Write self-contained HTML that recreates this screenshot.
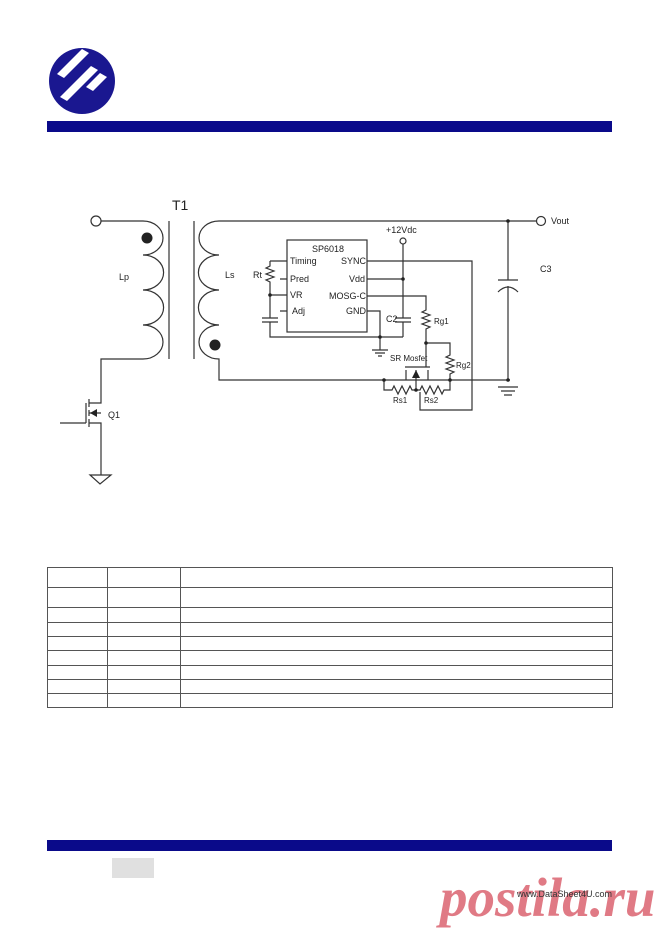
<!DOCTYPE html>
<html><head><meta charset="utf-8"><style>
html,body{margin:0;padding:0;background:#fff}
body{width:660px;height:934px;position:relative;overflow:hidden;font-family:"Liberation Sans",sans-serif}
</style></head><body>
<svg width="660" height="934" viewBox="0 0 660 934" xmlns="http://www.w3.org/2000/svg" style="position:absolute;left:0;top:0">
<!-- logo -->
<circle cx="82" cy="81" r="33" fill="#1a1790"/>
<g fill="#fff">
<polygon points="82,49 89,53 64,78 57,74"/>
<polygon points="91,66 98,70 67,101 60,97"/>
<polygon points="100,73 107,77 93,91 86,87"/>
</g>
<rect x="47" y="121" width="565" height="11" fill="#0a0a8a"/>
<rect x="47" y="840" width="565" height="11" fill="#0a0a8a"/>
<rect x="112" y="858" width="42" height="20" fill="#e0e0e0"/>

<g stroke="#333" stroke-width="1.2" fill="none">
<!-- primary -->
<circle cx="96" cy="221" r="5" fill="#fff"/>
<path d="M101,221 H143 A20,17 0 0 1 143,255 A20,17 0 0 1 143,290 A20,17 0 0 1 143,325 A20,17 0 0 1 143,359 H101 V403 H89"/>
<line x1="169" y1="221" x2="169" y2="359"/><line x1="194" y1="221" x2="194" y2="359"/>
<path d="M540,221 H219 A20,17 0 0 0 219,255 A20,17 0 0 0 219,290 A20,17 0 0 0 219,325 A20,17 0 0 0 219,359 V380 H510"/>
<!-- Q1 -->
<path d="M89,399 V407 M89,410 V416 M89,419 V427 M86,403 V423 M60,423 H86 M89,413 H101 M89,423 H101 V475"/>
<path d="M90,475 H111 L100,484 Z"/>
<!-- Vout/C3 -->
<circle cx="541" cy="221" r="4.5" fill="#fff"/>
<path d="M508,221 V280 M498,280 H518 M498,292 Q508,282 518,292 M508,286 V380 M498,387 H518 M501,391 H515 M504,395 H512"/>
<!-- IC -->
<rect x="287" y="240" width="80" height="92"/>
<path d="M270,261 H287 M280,279 H287 M270,295 H287 M280,311 H287"/>
<path d="M270,261 V266 L266,268 L274,271 L266,274 L274,277 L266,280 L270,282 V318 M262,318 H278 M262,322 H278 M270,322 V337 H403"/>
<circle cx="403" cy="241" r="3" fill="#fff"/>
<path d="M403,244 V318 M395,318 H411 M395,322 H411 M403,322 V337 M367,279 H403"/>
<path d="M367,311 H380 V350 M372,350 H388 M375,353 H385 M378,356 H382"/>
<path d="M367,261 H472 V410 H420 V392"/>
<path d="M367,296 H426 V310 L422,312 L430,315 L422,318 L430,321 L422,324 L430,327 L426,329 V343 H450 V355 L446,357 L454,360 L446,363 L454,366 L446,369 L454,372 L450,374 V380"/>
<path d="M426,343 V367 M405,367 H430 M406,370 V380 M416,370 V390 M428,370 V380"/>
<path d="M384,380 V390 H392 L394,386 L398,394 L402,386 L406,394 L410,386 L412,390 H420 L422,386 L426,394 L430,386 L434,394 L438,386 L442,394 L444,390 H450 V380"/>
</g>
<polygon points="416,370 412,378 420,378" fill="#222"/>
<polygon points="90,413 97,409 97,417" fill="#222"/>
<g fill="#222">
<circle cx="147" cy="238" r="5.5"/><circle cx="215" cy="345" r="5.5"/>
<circle cx="508" cy="221" r="1.8"/><circle cx="508" cy="380" r="1.8"/>
<circle cx="403" cy="279" r="1.8"/><circle cx="380" cy="337" r="1.8"/>
<circle cx="270" cy="295" r="1.8"/><circle cx="426" cy="343" r="1.8"/>
<circle cx="384" cy="380" r="1.8"/><circle cx="450" cy="380" r="1.8"/><circle cx="416" cy="390" r="1.8"/>
</g>
<g font-size="9" fill="#222">
<text x="172" y="210" font-size="14">T1</text>
<text x="119" y="280">Lp</text><text x="225" y="278">Ls</text>
<text x="108" y="418">Q1</text>
<text x="551" y="224">Vout</text><text x="540" y="272">C3</text>
<text x="386" y="233">+12Vdc</text>
<text x="312" y="252">SP6018</text>
<text x="290" y="264">Timing</text><text x="290" y="282">Pred</text><text x="290" y="298">VR</text><text x="292" y="314">Adj</text>
<text x="341" y="264">SYNC</text><text x="349" y="282">Vdd</text><text x="329" y="299">MOSG-C</text><text x="346" y="314">GND</text>
<text x="253" y="278">Rt</text><text x="386" y="322">C2</text>
<text x="434" y="324" font-size="8">Rg1</text><text x="456" y="368" font-size="8">Rg2</text>
<text x="390" y="361" font-size="8">SR Mosfet</text>
<text x="393" y="403" font-size="8">Rs1</text><text x="424" y="403" font-size="8">Rs2</text>
</g>
<!-- table -->
<g stroke="#555" stroke-width="1" fill="none">
<rect x="47.5" y="567.5" width="565" height="140"/>
<path d="M107.5,567 V708 M180.5,567 V708 M47,587.5 H612 M47,607.5 H612 M47,622.5 H612 M47,636.5 H612 M47,650.5 H612 M47,665.5 H612 M47,679.5 H612 M47,693.5 H612"/>
</g>
<text x="440" y="916" font-family="'Liberation Serif',serif" font-style="italic" font-weight="bold" font-size="55" fill="#e07a85">postila.ru</text>
<text x="517" y="897" font-size="9" fill="#333">www.DataSheet4U.com</text>
</svg>
</body></html>
